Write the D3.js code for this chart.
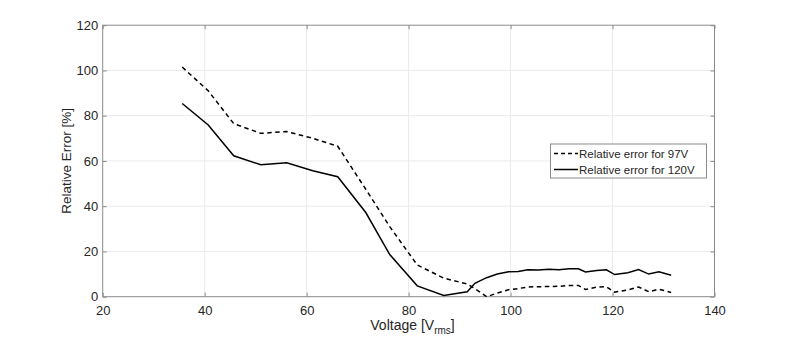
<!DOCTYPE html>
<html>
<head>
<meta charset="utf-8">
<script src="https://cdn.jsdelivr.net/npm/d3@7"></script>
<style>
  body { margin: 0; background: #fff; }
  svg text { font-family: "Liberation Sans", Arial, sans-serif; fill: #262626; }
</style>
</head>
<body>
<svg id="chart" width="789" height="342"></svg>
<script>
const voltage = [35.6, 40.7, 45.7, 51.0, 56.1, 61.2, 66.1, 71.6, 76.3, 81.7, 86.9, 91.5, 93.0, 95.3, 97.4, 99.6, 101.5, 103.4, 105.5, 107.5, 109.5, 111.5, 113.3, 114.7, 116.9, 118.8, 120.4, 123.0, 125.1, 127.1, 129.1, 131.5];
const err97 = [101.5, 91.0, 76.5, 72.2, 73.0, 70.0, 66.5, 47.5, 31.0, 14.0, 8.2, 5.6, 3.6, 0.0, 1.6, 3.1, 3.6, 4.3, 4.4, 4.5, 4.6, 5.0, 5.0, 3.2, 4.2, 4.4, 2.0, 3.0, 4.3, 2.2, 3.3, 1.9];
const err120 = [85.4, 75.9, 62.3, 58.3, 59.2, 55.7, 53.0, 37.2, 18.6, 4.8, 0.5, 2.2, 5.9, 8.4, 10.0, 11.0, 11.1, 11.9, 11.8, 12.1, 11.9, 12.3, 12.3, 10.9, 11.6, 11.9, 9.8, 10.6, 12.0, 10.0, 11.0, 9.5];
const xTicks = [20, 40, 60, 80, 100, 120, 140];
const yTicks = [0, 20, 40, 60, 80, 100, 120];
const seriesNames = ["Relative error for 97V", "Relative error for 120V"];

const svg = d3.select("#chart");
const pL = 102.7, pR = 714.5, pT = 25.2, pB = 296.7;
const x = d3.scaleLinear().domain([20, 140]).range([pL, pR]);
const y = d3.scaleLinear().domain([0, 120]).range([pB, pT]);

const axisColor = "#8a8a8a";
const gridColor = "#ebebeb";

// grid
const g = svg.append("g");
g.selectAll(".gx").data(xTicks.slice(1, -1)).enter().append("line")
  .attr("x1", d => x(d)).attr("x2", d => x(d)).attr("y1", pT).attr("y2", pB)
  .attr("stroke", gridColor).attr("stroke-width", 1);
g.selectAll(".gy").data(yTicks.slice(1, -1)).enter().append("line")
  .attr("y1", d => y(d)).attr("y2", d => y(d)).attr("x1", pL).attr("x2", pR)
  .attr("stroke", gridColor).attr("stroke-width", 1);

// axes with inward ticks
const tl = 4;
const xAxisB = d3.axisBottom(x).tickValues(xTicks).tickSize(-tl).tickPadding(9);
const xAxisT = d3.axisTop(x).tickValues(xTicks).tickSize(-tl).tickFormat("");
const yAxisL = d3.axisLeft(y).tickValues(yTicks).tickSize(-tl).tickPadding(4.5);
const yAxisR = d3.axisRight(y).tickValues(yTicks).tickSize(-tl).tickFormat("");

function style(sel) {
  sel.select(".domain").remove();
  sel.selectAll(".tick line").attr("stroke", axisColor);
  sel.selectAll(".tick text").attr("fill", "#262626").style("font-size", "13px")
     .style("font-family", "'Liberation Sans', Arial, sans-serif");
}
svg.append("g").attr("transform", `translate(0,${pB})`).call(xAxisB).call(style);
svg.append("g").attr("transform", `translate(0,${pT})`).call(xAxisT).call(style);
svg.append("g").attr("transform", `translate(${pL},0)`).call(yAxisL).call(style);
svg.append("g").attr("transform", `translate(${pR},0)`).call(yAxisR).call(style);

// box
svg.append("rect").attr("x", pL).attr("y", pT).attr("width", pR - pL).attr("height", pB - pT)
  .attr("fill", "none").attr("stroke", axisColor).attr("stroke-width", 1);

// lines
const line = d3.line().x(d => x(d[0])).y(d => y(d[1]));
const d97 = voltage.map((v, i) => [v, err97[i]]);
const d120 = voltage.map((v, i) => [v, err120[i]]);
svg.append("path").datum(d97).attr("d", line).attr("fill", "none")
  .attr("stroke", "#000").attr("stroke-width", 1.5).attr("stroke-dasharray", "4.5,3.5");
svg.append("path").datum(d120).attr("d", line).attr("fill", "none")
  .attr("stroke", "#000").attr("stroke-width", 1.5);

// axis labels
svg.append("text").attr("x", 412.5).attr("y", 330).attr("text-anchor", "middle")
  .style("font-size", "14px")
  .html('Voltage [V<tspan dy="4" style="font-size:10px">rms</tspan><tspan dy="-4">]</tspan>');
svg.append("text").attr("transform", `translate(70.5,${(pT + pB) / 2}) rotate(-90)`)
  .attr("text-anchor", "middle").style("font-size", "13.5px").text("Relative Error [%]");

// legend
const lg = svg.append("g");
lg.append("rect").attr("x", 550.5).attr("y", 144).attr("width", 156).attr("height", 34)
  .attr("fill", "#fff").attr("stroke", axisColor).attr("stroke-width", 1);
const rows = [{name: seriesNames[0], dash: "4,3"}, {name: seriesNames[1], dash: null}];
rows.forEach((r, i) => {
  const cy = 153.5 + i * 16;
  lg.append("line").attr("x1", 554).attr("x2", 578).attr("y1", cy).attr("y2", cy)
    .attr("stroke", "#000").attr("stroke-width", 1.5).attr("stroke-dasharray", r.dash);
  lg.append("text").attr("x", 579).attr("y", cy + 4).style("font-size", "11.5px").text(r.name);
});
</script>
</body>
</html>
